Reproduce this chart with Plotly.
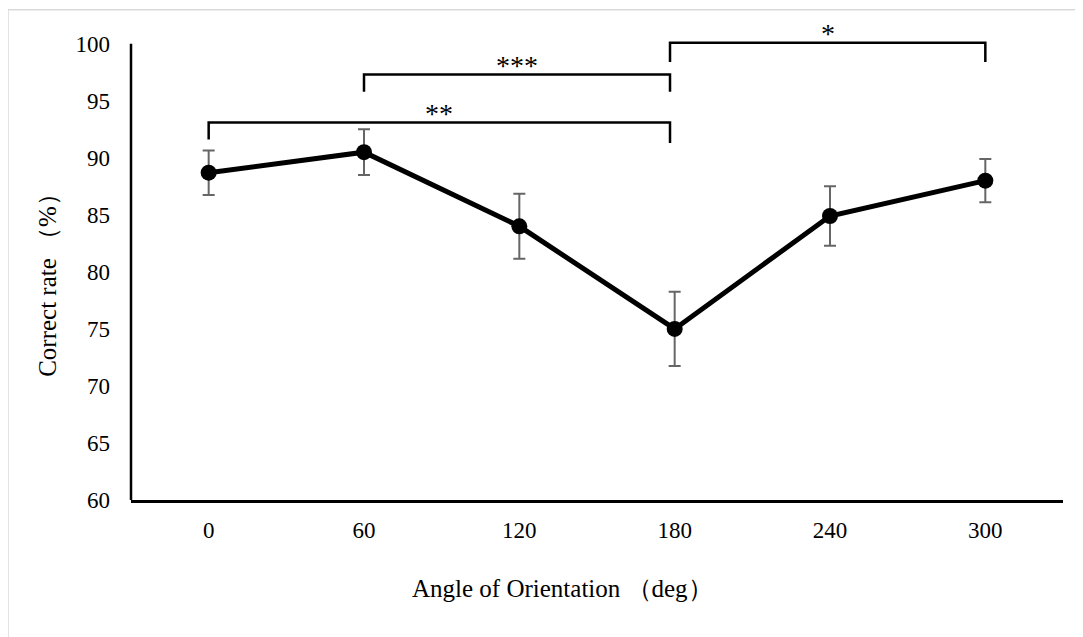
import plotly.graph_objects as go

angles = ["0", "60", "120", "180", "240", "300"]
correct_rate = [88.7, 90.5, 84.0, 75.0, 84.9, 88.0]
error = [1.95, 2.0, 2.85, 3.25, 2.6, 1.9]
y_ticks = [60, 65, 70, 75, 80, 85, 90, 95, 100]

# significance brackets: (x_start, x_end, y_bar, y_left_end, y_right_end, label)
brackets = [
    (0.0, 2.97, 93.1, 91.6, 91.3, "**"),
    (1.0, 2.97, 97.3, 95.8, 95.8, "***"),
    (2.97, 5.0, 100.1, 98.4, 98.4, "*"),
]

FONT = "Liberation Serif, Times New Roman, serif"
xi = list(range(len(angles)))

fig = go.Figure()
fig.add_trace(go.Scatter(
    x=xi, y=correct_rate, mode="lines+markers",
    line=dict(color="black", width=5),
    marker=dict(color="black", size=16),
    error_y=dict(type="data", array=error, visible=True,
                 color="#666666", thickness=2, width=6),
    showlegend=False, cliponaxis=False,
))

for x0, x1, yb, yl, yr, lab in brackets:
    fig.add_shape(type="path",
                  path=f"M {x0} {yl} L {x0} {yb} L {x1} {yb} L {x1} {yr}",
                  xref="x", yref="y", line=dict(color="black", width=2.5))
    fig.add_annotation(x=(x0 + x1) / 2, y=yb, xref="x", yref="y",
                       text=lab, showarrow=False, yanchor="bottom", yshift=-8,
                       font=dict(family=FONT, size=28, color="black"))

# y axis line (only up to 100)
fig.add_shape(type="line", xref="paper", yref="y", x0=0, x1=0, y0=60, y1=100,
              line=dict(color="black", width=2.5))

# outer chart border
fig.add_shape(type="rect", xref="paper", yref="paper",
              x0=-0.132, x1=1.05, y0=-0.32, y1=1.0234,
              line=dict(color="#d9d9d9", width=1.5), layer="below")

fig.add_annotation(text="Angle of Orientation （deg）", xref="paper", yref="paper",
                   x=0.4635, y=-0.1838, showarrow=False,
                   xanchor="center", yanchor="middle",
                   font=dict(family=FONT, size=25, color="black"))
fig.add_annotation(text="Correct rate （%）", xref="paper", yref="paper",
                   x=-0.0891, y=0.4616, showarrow=False, textangle=-90,
                   xanchor="center", yanchor="middle",
                   font=dict(family=FONT, size=25, color="black"))

fig.update_layout(
    width=1083, height=637,
    margin=dict(l=123, r=28, t=13, b=145),
    paper_bgcolor="white", plot_bgcolor="white",
    font=dict(family=FONT, size=23, color="black"),
    xaxis=dict(range=[-0.5, 5.5], tickvals=xi, ticktext=angles,
               showline=True, linecolor="black", linewidth=2.5,
               showgrid=False, zeroline=False, ticks="", ticklabelstandoff=8,
               fixedrange=True),
    yaxis=dict(range=[60, 102], tickvals=y_ticks, showline=False,
               showgrid=False, zeroline=False, ticks="", ticklabelstandoff=20,
               fixedrange=True),
)

fig.write_html("out.html")
